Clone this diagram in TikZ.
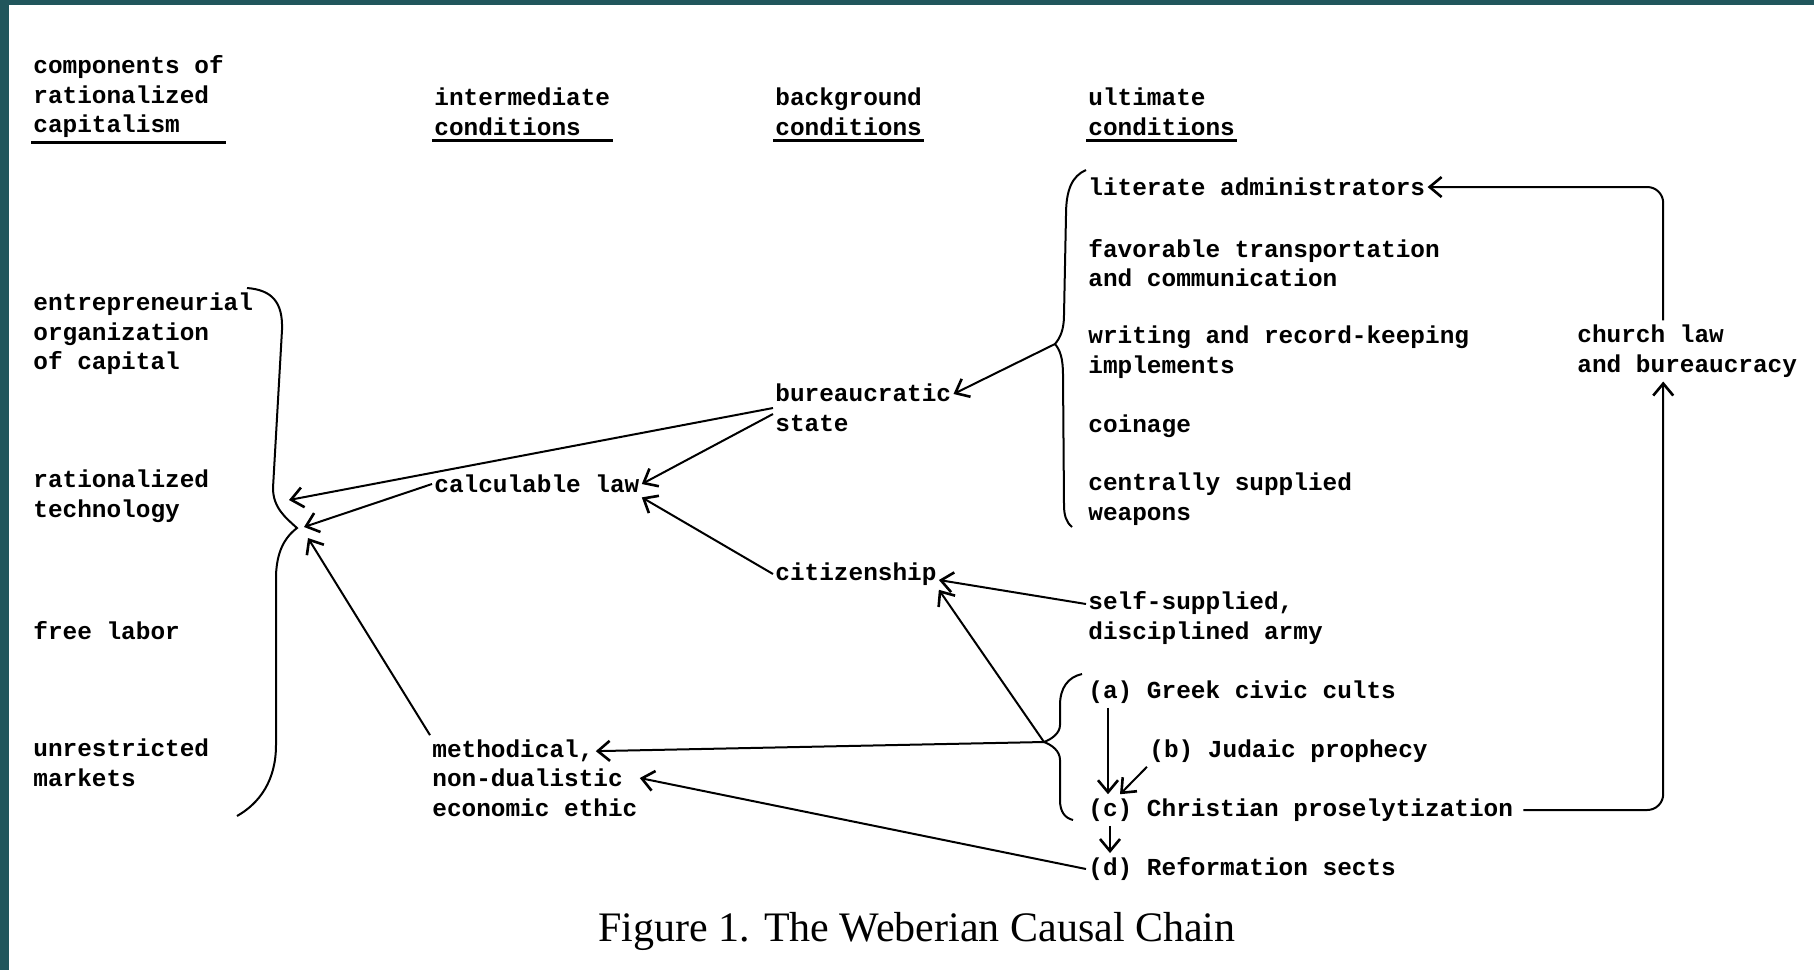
\documentclass[tikz,border=0pt]{standalone}
\usepackage{fontspec}
\setmainfont{Liberation Serif}
\setmonofont{Liberation Mono}
\usetikzlibrary{
    arrows.meta,
    calc
}
\tikzset{
  item/.style  = {anchor=west, align=left, inner xsep=1pt, inner ysep=2pt,
                  font=\ttfamily\bfseries\fontsize{12.2}{14.75}\selectfont},
  uline/.style = {line width=1.5pt},
  brc/.style   = {line width=1pt},
  arr/.style   = {-{Straight Barb[length=6pt,width=10pt,line width=1.3pt]}, line width=1pt}
}
\definecolor{FrameTeal}{RGB}{33,86,92}

\begin{document}
\begin{tikzpicture}[x=0.5pt, y=-0.5pt]
\fill[FrameTeal] (0,0) rectangle (1814,970);
\fill[white] (9,5) rectangle (1814,970);
\useasboundingbox (0,0) rectangle (1814,970);

\node[item] (hcap) at (31,97) {components of\\rationalized\\capitalism};
\node[item] (hint) at (432,112) {intermediate\\conditions};
\node[item] (hbg) at (773,112) {background\\conditions};
\node[item] (hult) at (1086,112) {ultimate\\conditions};
\draw[uline] (hcap.south west) -- (hcap.south east);
\draw[uline] (hint.south west) -- (hint.south east);
\draw[uline] (hbg.south west) -- (hbg.south east);
\draw[uline] (hult.south west) -- (hult.south east);

\node[item] (ent) at (31,334) {entrepreneurial\\organization\\of capital};
\node[item] (tech) at (31,496) {rationalized\\technology};
\node[item] (labor) at (31,631) {free labor};
\node[item] (mkts) at (31,763) {unrestricted\\markets};

\node[item] (law) at (432,484) {calculable law};
\node[item] (ethic) at (430,778) {methodical,\\non-dualistic\\economic ethic};

\node[item] (bstate) at (773,408) {bureaucratic\\state};
\node[item] (citz) at (773,574) {citizenship};

\node[item] (lit) at (1086,187) {literate administrators};
\node[item] (trans) at (1086,263) {favorable transportation\\and communication};
\node[item] (writ) at (1086,352) {writing and record-keeping\\implements};
\node[item] (coin) at (1086,426) {coinage};
\node[item] (weap) at (1086,499) {centrally supplied\\weapons};
\node[item] (army) at (1086,618) {self-supplied,\\disciplined army};
\node[item] (greek) at (1086,692) {(a) Greek civic cults};
\node[item] (judaic) at (1147,751) {(b) Judaic prophecy};
\node[item] (christ) at (1086,810) {(c) Christian proselytization};
\node[item] (reform) at (1086,869) {(d) Reformation sects};
\node[item] (church) at (1575,351) {church law\\and bureaucracy};

\node[font=\fontsize{21}{24}\selectfont] (caption) at (917,931) {Figure 1. The Weberian Causal Chain};

\draw[brc] (247,288) .. controls (272,290) and (283,302) .. (282,330)
  -- (273,488) .. controls (273,508) and (286,518) .. (297,528)
  .. controls (284,538) and (277,552) .. (276,575)
  -- (276,745) .. controls (276,780) and (260,803) .. (237,816);
\draw[brc] (1086,170) .. controls (1072,176) and (1066,190) .. (1066,215)
  -- (1064,315) .. controls (1064,330) and (1060,338) .. (1055,344) coordinate (ulttip)
  .. controls (1060,350) and (1063,358) .. (1063,375)
  -- (1064,505) .. controls (1064,515) and (1066,522) .. (1072,527);
\draw[brc] (1082,674) .. controls (1068,677) and (1060,688) .. (1060,705)
  -- (1060,725) .. controls (1060,733) and (1052,739) .. (1044,742) coordinate (reltip)
  .. controls (1052,745) and (1060,751) .. (1060,760)
  -- (1060,800) .. controls (1060,812) and (1065,818) .. (1073,820);

\coordinate (capA) at (289,500);
\coordinate (capB) at (304,527);
\coordinate (capC) at (308,538);

\draw[arr] (bstate.west) -- (capA);
\draw[arr] (law.west) -- (capB);
\draw[arr] (ethic.north west) -- (capC);
\draw[arr] ([yshift=-3pt]bstate.west) -- (law.east);
\draw[arr] (citz.west) -- (law.south east);
\draw[arr] (ulttip) -- ([yshift=7pt]bstate.east);
\draw[arr] ([yshift=7pt]army.west) -- ([yshift=-3pt]citz.east);
\draw[arr] (reltip) -- (citz.south east);
\draw[arr] (reltip) -- ([xshift=-22pt,yshift=-8pt]ethic.north east);
\draw[arr] (reform.west) -- (ethic.east);
\draw[arr] ([xshift=11pt]greek.south west) -- ([xshift=11pt]christ.north west);
\draw[arr] (judaic.south west) -- ([xshift=17pt]christ.north west);
\draw[arr] ([xshift=12pt]christ.south west) -- ([xshift=12pt]reform.north west);
\draw[arr, rounded corners=8pt] ([xshift=4pt]christ.east) -| ([xshift=-12pt]church.south);
\draw[arr, rounded corners=8pt] ([xshift=-12pt]church.north) |- (lit.east);
\end{tikzpicture}
\end{document}
